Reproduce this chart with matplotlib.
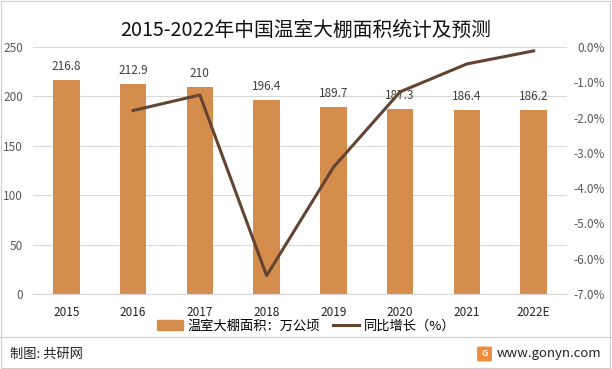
import matplotlib.pyplot as plt
from matplotlib.patches import Rectangle, FancyBboxPatch
from matplotlib.lines import Line2D
from matplotlib.ticker import FuncFormatter

plt.rcParams['font.family'] = ['Noto Sans CJK SC', 'DejaVu Sans']

years = ["2015", "2016", "2017", "2018", "2019", "2020", "2021", "2022E"]
area = [216.8, 212.9, 210, 196.4, 189.7, 187.3, 186.4, 186.2]
growth_years = ["2016", "2017", "2018", "2019", "2020", "2021", "2022E"]
growth = [-1.80, -1.36, -6.48, -3.41, -1.27, -0.48, -0.11]

bar_color = "#D58D4E"
line_color = "#644430"
grid_color = "#D9D9D9"
tick_color = "#595959"

fig = plt.figure(figsize=(6.12, 3.69), dpi=100)
ax = fig.add_axes([33 / 612, 1 - 294 / 369, 534 / 612, 247 / 369])

x = list(range(len(years)))
ax.bar(x, area, width=0.4, color=bar_color, zorder=2)
for xi, v in zip(x, area):
    ax.annotate(f"{v:g}", (xi, v), xytext=(0, 5), textcoords="offset points",
                ha="center", va="bottom", fontsize=8.5, color="#404040")

ax.set_xlim(-0.5, len(years) - 0.5)
ax.set_ylim(0, 250)
ax.set_yticks(range(0, 251, 50))
ax.set_xticks(x)
ax.set_xticklabels(years)
ax.yaxis.grid(True, color=grid_color, linewidth=0.8, zorder=0)
for s in ["top", "right", "left"]:
    ax.spines[s].set_visible(False)
ax.spines["bottom"].set_color(grid_color)
ax.tick_params(axis="y", length=0, pad=7, labelsize=8.5, labelcolor=tick_color)
ax.tick_params(axis="x", length=0, pad=9, labelsize=8.5, labelcolor="#222222")

ax2 = ax.twinx()
gx = [years.index(y) for y in growth_years]
ax2.plot(gx, growth, color=line_color, linewidth=2.2, zorder=3)
ax2.set_ylim(-7, 0)
ax2.set_yticks(range(-7, 1))
ax2.yaxis.set_major_formatter(FuncFormatter(lambda v, p: f"{v:.1f}%"))
for s in ax2.spines.values():
    s.set_visible(False)
ax2.tick_params(axis="y", length=0, pad=27, labelsize=8.5, labelcolor=tick_color)
for lab in ax2.get_yticklabels():
    lab.set_ha("right")

fig.text(0.5, 1 - 30 / 369, "2015-2022年中国温室大棚面积统计及预测",
         ha="center", va="center", fontsize=14.2, color="#111111")

handles = [Rectangle((0, 0), 1, 1, color=bar_color),
           Line2D([0], [0], color=line_color, linewidth=2.2)]
fig.legend(handles, ["温室大棚面积：万公顷", "同比增长（%）"], loc="center",
           bbox_to_anchor=(0.5, 1 - 326 / 369), ncol=2, frameon=False,
           fontsize=9.5, handlelength=2.0, handletextpad=0.3, columnspacing=1.0)

# footer
fig.add_artist(Line2D([0.0, 1.0], [1 - 337 / 369] * 2, color="#CCCCCC", linewidth=0.8))
fig.text(10 / 612, 1 - 354 / 369, "制图: 共研网", ha="left", va="center", fontsize=9.5, color="#222222")
fig.add_artist(FancyBboxPatch((479 / 612, 1 - 360 / 369), 11 / 612, 12 / 369,
                              boxstyle="round,pad=0.002", color="#F08A3C",
                              transform=fig.transFigure))
fig.text(484.5 / 612, 1 - 354 / 369, "G", ha="center", va="center",
         fontsize=6.5, color="white", fontweight="bold")
fig.text(601 / 612, 1 - 354 / 369, "www.gonyn.com", ha="right", va="center",
         fontsize=9.5, color="#222222")

# outer border
fig.add_artist(Rectangle((0.002, 0.004), 0.994, 0.992, fill=False,
                         edgecolor="#CCCCCC", linewidth=0.8, transform=fig.transFigure))

fig.savefig("out.png", dpi=100)
